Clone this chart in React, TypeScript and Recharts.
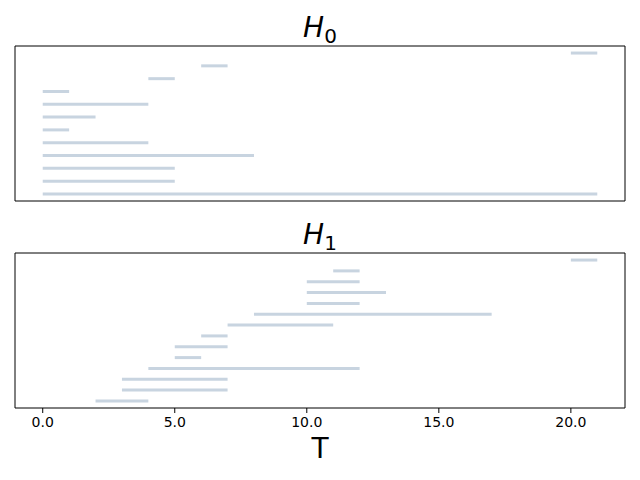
import React from 'react';
import { ComposedChart, XAxis, YAxis, ReferenceLine, ReferenceArea } from 'recharts';

// H0 barcode (bottom to top)
const h0Births = [0, 0, 0, 0, 0, 0, 0, 0, 0, 4, 6, 20];
const h0Deaths = [21, 5, 5, 8, 4, 1, 2, 4, 1, 5, 7, 21];
// H1 barcode (bottom to top)
const h1Births = [2, 3, 3, 4, 5, 5, 6, 7, 8, 10, 10, 10, 11, 20];
const h1Deaths = [4, 7, 7, 12, 6, 7, 7, 11, 17, 12, 13, 12, 12, 21];
const xTicks = [0, 5, 10, 15, 20];
const titles = ['0', '1'];
const xLabel = 'T';

const BAR_COLOR = '#c8d4e0';
const X_DOMAIN: [number, number] = [-1.05, 22.05];
const FONT = '"DejaVu Sans", sans-serif';

function toBars(births: number[], deaths: number[]) {
  return births.map((b, i) => ({ idx: i, birth: b, death: deaths[i] }));
}

function Panel({ births, deaths, top, height, margin, showLabels, xHeight }: any) {
  const bars = toBars(births, deaths);
  const n = bars.length - 1;
  const pad = n * 0.05;
  const yDomain: [number, number] = [-pad, n + pad];
  return (
    <div style={{ position: 'absolute', left: 0, top, width: 640, height }}>
      <ComposedChart width={640} height={height} data={bars} margin={margin}>
        <XAxis
          type="number"
          dataKey="birth"
          domain={X_DOMAIN}
          ticks={xTicks}
          allowDataOverflow
          axisLine={false}
          tickLine={{ stroke: '#000', strokeWidth: 1 }}
          tickSize={5}
          tickMargin={4}
          height={xHeight}
          interval={0}
          tick={showLabels ? { fill: '#000', fontSize: 14, fontFamily: FONT } : false}
          tickFormatter={(v: number) => (showLabels ? v.toFixed(1) : '')}
        />
        <YAxis type="number" dataKey="idx" domain={yDomain} allowDataOverflow hide />
        {bars.map((b) => (
          <ReferenceLine
            key={b.idx}
            segment={[{ x: b.birth, y: b.idx }, { x: b.death, y: b.idx }]}
            stroke={BAR_COLOR}
            strokeWidth={3}
          />
        ))}
        <ReferenceArea
          x1={X_DOMAIN[0]}
          x2={X_DOMAIN[1]}
          y1={yDomain[0]}
          y2={yDomain[1]}
          fill="none"
          fillOpacity={0}
          stroke="#000"
          strokeWidth={1}
          ifOverflow="visible"
        />
      </ComposedChart>
    </div>
  );
}

function Title({ sub, top }: { sub: string; top: number }) {
  return (
    <div
      style={{
        position: 'absolute',
        left: 0,
        top,
        width: 640,
        textAlign: 'center',
        fontFamily: FONT,
        fontSize: 28,
        lineHeight: 1,
        color: '#000',
      }}
    >
      <span style={{ fontStyle: 'italic' }}>H</span>
      <span style={{ fontSize: 20, position: 'relative', top: 6 }}>{sub}</span>
    </div>
  );
}

export default function App() {
  return (
    <div style={{ position: 'absolute', left: 0, top: 0, width: 640, height: 480, background: '#fff' }}>
      <Title sub={titles[0]} top={14} />
      <Panel
        births={h0Births}
        deaths={h0Deaths}
        top={0}
        height={215}
        margin={{ top: 46, right: 15, bottom: 0, left: 15 }}
        showLabels={false}
        xHeight={14}
      />
      <Title sub={titles[1]} top={221} />
      <Panel
        births={h1Births}
        deaths={h1Deaths}
        top={220}
        height={260}
        margin={{ top: 33, right: 15, bottom: 42, left: 15 }}
        showLabels={true}
        xHeight={30}
      />
      <div
        style={{
          position: 'absolute',
          left: 0,
          top: 435,
          width: 640,
          textAlign: 'center',
          fontFamily: FONT,
          fontSize: 28,
          lineHeight: 1,
          color: '#000',
        }}
      >
        {xLabel}
      </div>
    </div>
  );
}
